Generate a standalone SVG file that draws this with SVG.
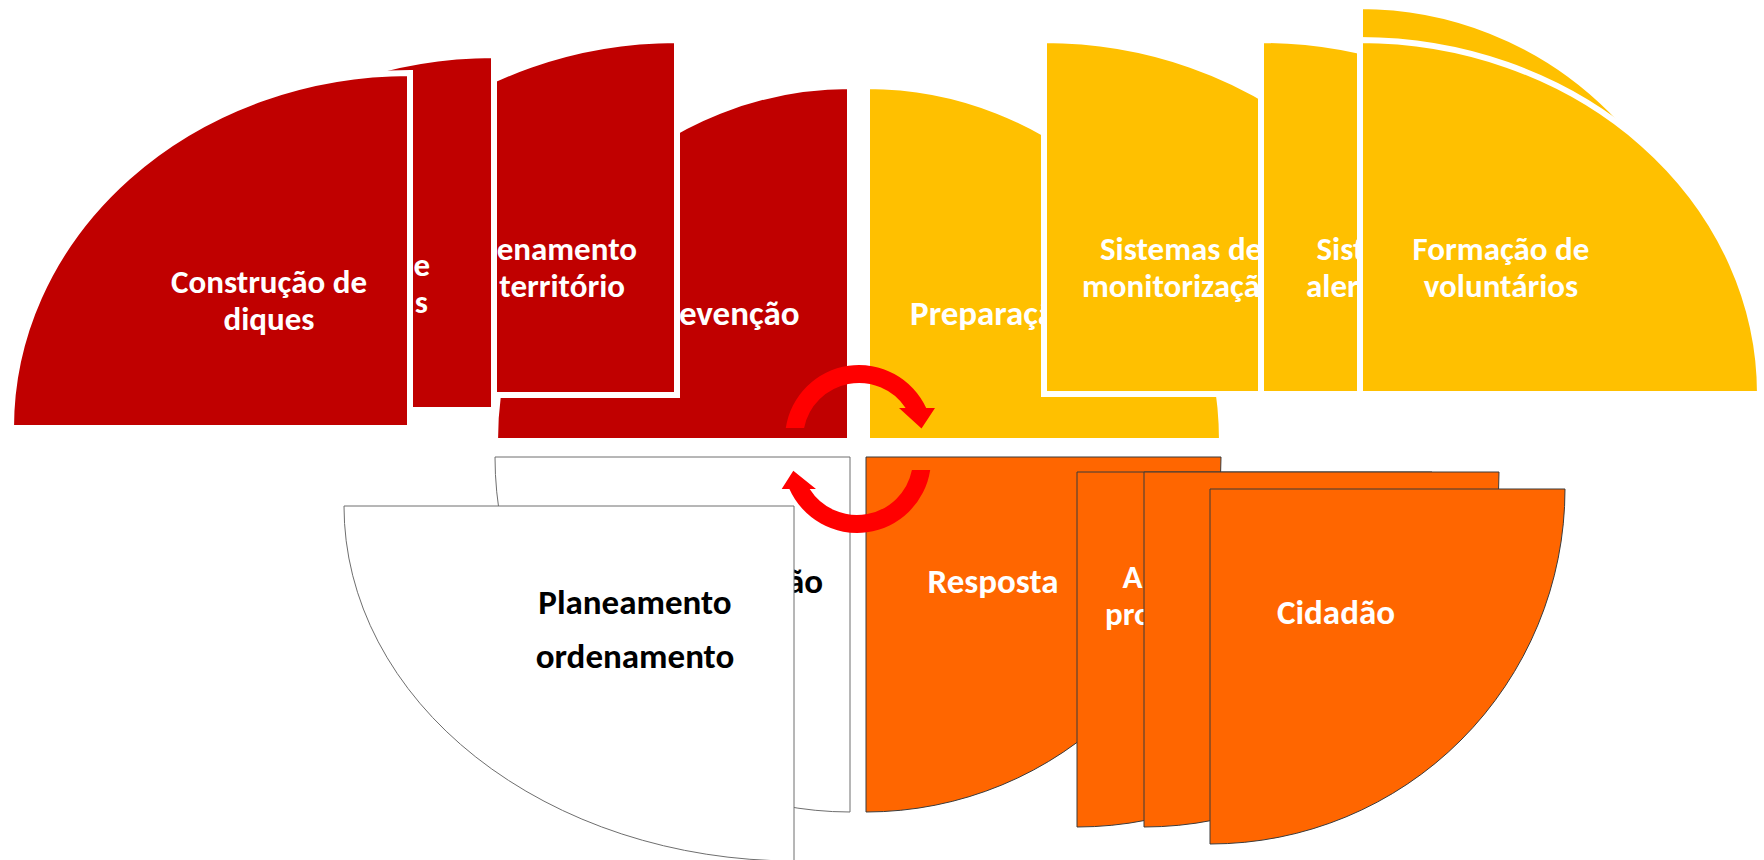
<svg xmlns="http://www.w3.org/2000/svg" width="1764" height="860" viewBox="0 0 1764 860">
<style>
.red{fill:#C00000;stroke:#FFFFFF;stroke-width:6}
.yel{fill:#FFC000;stroke:#FFFFFF;stroke-width:6}
.org{fill:#FF6600;stroke:#3B3B3B;stroke-width:1}
.wht{fill:#FFFFFF;stroke:#6E6E6E;stroke-width:1}
.t{font-family:Carlito,Lato,'Liberation Sans',sans-serif;font-weight:bold;font-size:35px;fill:#FFFFFF}
.t2{font-family:Carlito,Lato,'Liberation Sans',sans-serif;font-weight:bold;font-size:33px;fill:#FFFFFF}
.tb{font-family:Carlito,Lato,'Liberation Sans',sans-serif;font-weight:bold;font-size:35px;fill:#000000}
.arrow{fill:#FF0000}
</style>
<rect x="0" y="0" width="1764" height="860" fill="#FFFFFF"/>

<g id="prevencao">
<path class="red" d="M850,441 L850,86 A355,355 0 0 0 495,441 Z"/>
<text class="t" text-anchor="end" x="799.5" y="325">Prevenção</text>
</g>
<g id="ordenamento-territorio">
<path class="red" d="M677,395 L677,40 A399,355 0 0 0 278,395 Z"/>
<text class="t2" text-anchor="end"><tspan x="637" y="260">Ordenamento</tspan><tspan x="625" y="297">do território</tspan></text>
</g>
<g id="item-e-s">
<path class="red" d="M494,410 L494,55 A399,355 0 0 0 95,410 Z"/>
<text class="t2" text-anchor="end"><tspan x="430" y="276">e</tspan><tspan x="428" y="313">s</tspan></text>
</g>
<g id="construcao-diques">
<path class="red" d="M410,428 L410,73 A399,355 0 0 0 11,428 Z"/>
<text class="t2" text-anchor="middle"><tspan x="269" y="293">Construção de</tspan><tspan x="269" y="330">diques</tspan></text>
</g>

<g id="preparacao">
<path class="yel" d="M867,441 L867,86 A355,355 0 0 1 1222,441 Z"/>
<text class="t" text-anchor="start" x="910" y="325">Preparação</text>
</g>
<g id="sistemas-monitorizacao">
<path class="yel" d="M1044,394 L1044,40 A399,354 0 0 1 1443,394 Z"/>
<text class="t2" text-anchor="start"><tspan x="1100" y="260">Sistemas de</tspan><tspan x="1082" y="297">monitorização</tspan></text>
</g>
<g id="sistemas-alerta">
<path class="yel" d="M1261,394 L1261,40 A399,354 0 0 1 1660,394 Z"/>
<text class="t2" text-anchor="start"><tspan x="1316.5" y="260">Sist</tspan><tspan x="1306" y="297">aler</tspan></text>
</g>
<g id="item-back-yellow">
<path class="yel" d="M1360,361 L1360,6 A355,355 0 0 1 1715,361 Z"/>
</g>
<g id="formacao-voluntarios">
<path class="yel" d="M1360,394 L1360,40 A400,354 0 0 1 1760,394 Z"/>
<text class="t2" text-anchor="middle"><tspan x="1501" y="260">Formação de</tspan><tspan x="1501" y="297">voluntários</tspan></text>
</g>

<g id="recuperacao">
<path class="wht" d="M495,457 L850,457 L850,812 A355,355 0 0 1 495,457 Z"/>
<text class="tb" text-anchor="end" x="823" y="593">ão</text>
</g>
<g id="planeamento-ordenamento">
<path class="wht" d="M344,506 L794,506 L794,861 A450,355 0 0 1 344,506 Z"/>
<text class="tb" text-anchor="middle"><tspan x="635" y="614">Planeamento</tspan><tspan x="635" y="668">ordenamento</tspan></text>
</g>

<g id="resposta">
<path class="org" d="M866,457 L1221,457 A355,355 0 0 1 866,812 Z"/>
<text class="t" text-anchor="middle" x="993" y="593">Resposta</text>
</g>
<g id="agentes-protecao">
<path class="org" d="M1077,472 L1432,472 A355,355 0 0 1 1077,827 Z"/>
<text class="t2" text-anchor="start"><tspan x="1122.6" y="588">A</tspan><tspan x="1105" y="625">pro</tspan></text>
</g>
<g id="item-back-orange">
<path class="org" d="M1144,472 L1499,472 A355,355 0 0 1 1144,827 Z"/>
</g>
<g id="cidadao">
<path class="org" d="M1210,489 L1565,489 A355,355 0 0 1 1210,844 Z"/>
<text class="t" text-anchor="middle" x="1336" y="624">Cidadão</text>
</g>

<g id="connectors">
<path class="arrow" d="M785.8,428 A74,74 0 0 1 926.2,408 L935,408 L921.5,428.5 L899,408 L905.6,408 A56,56 0 0 0 804.1,428 Z"/>
<path class="arrow" d="M911.9,470 A56,56 0 0 1 809.7,489 L816,489 L793.3,470.7 L781.7,489 L789.4,489 A74,74 0 0 0 930.2,470 Z"/>
</g>
</svg>
